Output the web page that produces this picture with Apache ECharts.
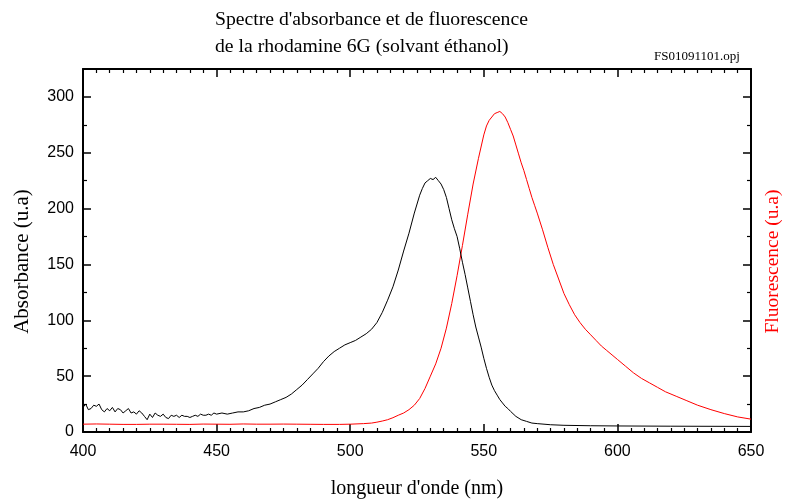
<!DOCTYPE html>
<html><head><meta charset="utf-8">
<script src="https://cdn.jsdelivr.net/npm/echarts@6/dist/echarts.min.js"></script>
<style>html,body{margin:0;padding:0;background:#fff}#c{width:791px;height:500px}</style>
</head><body><div id="c"></div>
<script>
var titleLines = ["Spectre d'absorbance et de fluorescence", "de la rhodamine 6G (solvant éthanol)"];
var fileLabel = "FS01091101.opj";
var xName = "longueur d'onde (nm)";
var yLeftName = "Absorbance (u.a)";
var yRightName = "Fluorescence (u.a)";

var absWl = [400,401,402,403,404,405,406,407,408,409,410,411,412,413,414,415,416,417,418,419,420,421,422,423,424,425,426,427,428,429,430,431,432,433,434,435,436,437,438,439,440,441,442,443,444,445,446,447,448,449,450,452,454,456,458,460,462,464,466,468,470,472,474,476,478,480,482,484,486,488,490,492,494,496,498,500,502,504,506,508,510,512,514,516,518,520,522,524,526,527,528,529,530,531,532,533,534,535,536,537,538,539,540,541,542,543,544,545,546,547,548,549,550,551,552,553,554,555,556,557,558,559,560,562,564,566,568,570,575,580,590,600,620,650];
var absVal = [22,25,20,21,24,23,25,20,18,21,19,22,18,21,20,17,19,21,17,18,16,19,17,14,11,16,13,17,15,14,16,13,12,15,14,15,13,15,14,14,13,14,15,14,16,15,15,16,15,17,16,17,16,17,18,18,19,21,22,24,25,27,29,31,34,38,42,47,52,57,63,68,72,75,78,80,82,85,88,92,98,107,118,130,145,162,178,196,212,218,223,225,227,226,228,225,222,217,210,200,190,182,175,164,152,141,129,117,105,94,85,76,66,57,49,42,37,33,29,26,23,21,18.5,14,11,9.5,8,7.5,6.5,6,5.6,5.4,5.2,5];

var fluoWl = [400,405,410,415,420,425,430,435,440,445,450,455,460,465,470,475,480,485,490,496,500,505,508,510,512,514,516,518,520,522,524,526,528,530,532,534,536,538,540,542,544,546,548,550,551,552,553,554,555,556,557,558,559,560,561,562,563,564,565,566,567,568,569,570,572,574,576,578,580,582,584,586,588,590,592,594,596,598,600,603,606,609,612,615,618,622,626,630,635,640,645,650];
var fluoVal = [7,7.2,7,6.8,6.8,7,7,6.9,6.8,7.1,7,6.9,7.2,7,7,7.1,7,6.9,6.8,6.8,7,7.5,8,8.8,9.8,11,12.8,15,17,20,24,30,39,50,61,75,93,115,140,167,195,222,245,266,274,279,282,285,286,287,285,282,277,271,265,257,249,241,234,226,218,210,203,196,181,165,150,137,124,114,105,98,92,87,82,77,73,69,65,59,53,48,44,40,36,32,28,24,20,16.5,13.5,11.5];

var xTicks = [400,450,500,550,600,650];
var yTicks = [0,50,100,150,200,250,300];

function pairs(xs, ys){ var o=[]; for (var i=0;i<xs.length;i++) o.push([xs[i], ys[i]]); return o; }

var chart = echarts.init(document.getElementById('c'), null, {renderer:'canvas'});
var serif = 'Liberation Serif';
var sans = 'Liberation Sans';
var axisLine = {show:true, onZero:false, lineStyle:{color:'#000', width:2}};
function xAx(pos, show){
  return {type:'value', position:pos, min:xTicks[0], max:xTicks[xTicks.length-1], interval:50,
    axisLine:axisLine, axisTick:{show:true, inside:true, length:8, lineStyle:{color:'#000',width:1.5}},
    minorTick:{show:true, splitNumber:10, length:4, lineStyle:{color:'#000',width:1.2}},
    splitLine:{show:false},
    axisLabel:{show:show, margin:12, color:'#000', fontFamily:sans, fontSize:16},
    name: show ? xName : '', nameLocation:'middle', nameGap:47,
    nameTextStyle:{fontFamily:serif, fontSize:20, color:'#000'}};
}
function yAx(pos, show, name, nameColor, fs){
  return {type:'value', position:pos, min:yTicks[0], max:325, interval:50,
    axisLine:axisLine, axisTick:{show:true, inside:true, length:8, lineStyle:{color:'#000',width:1.5}},
    minorTick:{show:true, splitNumber:2, length:4, lineStyle:{color:'#000',width:1.2}},
    splitLine:{show:false},
    axisLabel:{show:show, margin:9, color:'#000', fontFamily:sans, fontSize:16, showMaxLabel:false},
    name:name, nameLocation:'middle', nameRotate:90, nameGap: show?50:12,
    nameTextStyle:{fontFamily:serif, fontSize:fs, color:nameColor, padding:[0,22,0,0]}};
}
chart.setOption({
  animation:false,
  backgroundColor:'#fff',
  grid:{left:83, right:40, top:69, bottom:68, containLabel:false, outerBoundsMode:'none'},
  title:[{text:titleLines.join('\n'), left:210, top:1, textStyle:{fontFamily:serif, fontSize:19.7, fontWeight:'normal', color:'#000', lineHeight:27}},
         {text:fileLabel, left:649, top:45, textStyle:{fontFamily:serif, fontSize:13, fontWeight:'normal', color:'#000'}}],
  xAxis:[xAx('bottom', true), xAx('top', false)],
  yAxis:[yAx('left', true, yLeftName, '#000', 21), yAx('right', false, yRightName, '#ff0000', 19.5)],
  series:[
    {type:'line', name:'Absorbance', xAxisIndex:0, yAxisIndex:0, data:pairs(absWl, absVal), showSymbol:false, symbol:'none', lineStyle:{color:'#000', width:1}, z:3},
    {type:'line', name:'Fluorescence', xAxisIndex:0, yAxisIndex:1, data:pairs(fluoWl, fluoVal), showSymbol:false, symbol:'none', lineStyle:{color:'#ff0000', width:1}, z:2}
  ]
});
</script></body></html>
